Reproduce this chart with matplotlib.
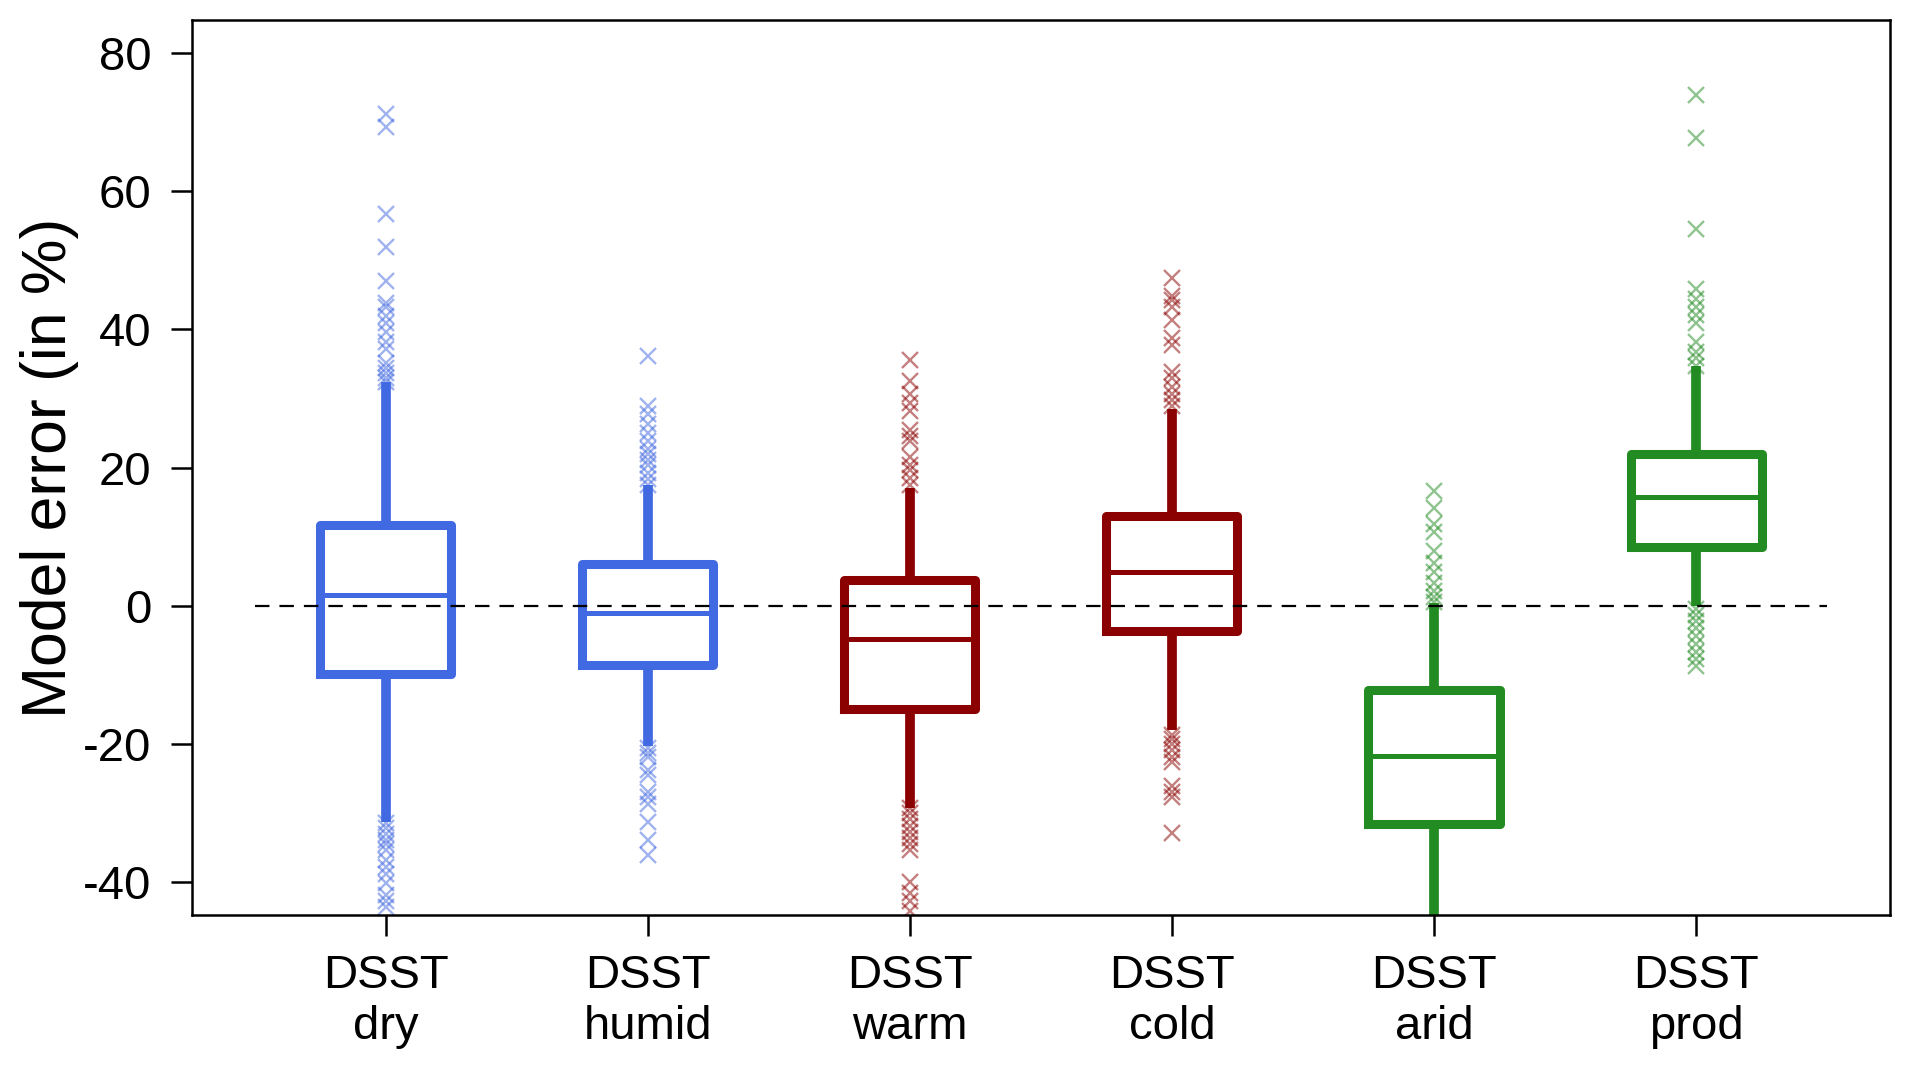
import numpy as np
import matplotlib
matplotlib.use("Agg")
import matplotlib.pyplot as plt

plt.rcParams['font.family'] = ['Liberation Sans', 'DejaVu Sans']
plt.rcParams['axes.unicode_minus'] = False

# groups and box statistics
labels = ["DSST\ndry", "DSST\nhumid", "DSST\nwarm", "DSST\ncold", "DSST\narid", "DSST\nprod"]
colors = ["#4169E1", "#4169E1", "#8B0000", "#8B0000", "#228B22", "#228B22"]
q1 = [-9.9, -8.6, -15.0, -3.7, -31.7, 8.5]
med = [1.5, -1.1, -4.9, 4.8, -21.8, 15.7]
q3 = [11.6, 6.0, 3.7, 13.0, -12.2, 21.9]
whislo = [-31.4, -20.3, -29.4, -18.1, -50.0, 0.0]
whishi = [32.4, 17.4, 17.1, 28.5, 0.3, 34.7]

# outliers
fl_dry = [71.2, 69.4, 56.7, 52.0, 47.0, 43.9, 43.2, 42.0, 40.9, 39.6, 38.2, 37.2, 35.2,
          34.4, 33.7, 33.0, 32.4,
          -31.5, -32.2, -33.1, -34.0, -34.6, -35.4, -36.8, -37.9, -38.9, -40.2, -41.9,
          -42.8, -43.7]
fl_humid = [36.1, 28.9, 27.7, 26.3, 25.0, 23.8, 22.7, 22.0, 21.1, 20.3, 19.2, 18.3, 17.4,
            -20.6, -21.3, -22.0, -23.8, -24.5, -27.0, -27.8, -28.7, -31.4, -34.0, -36.1]
fl_warm = [35.6, 32.6, 30.7, 29.4, 28.2, 25.4, 24.5, 23.8, 21.5, 20.4, 19.6, 18.5, 17.4,
           -29.4, -30.1, -31.0, -31.9, -32.8, -33.7, -34.5, -35.4, -40.0, -41.6, -42.8,
           -44.2]
fl_cold = [47.4, 44.9, 44.2, 43.2, 41.4, 38.8, 37.7, 33.8, 33.0, 31.7, 30.7, 29.8, 28.9,
           -18.7, -19.4, -20.1, -21.0, -21.9, -22.7, -26.1, -27.0, -27.8, -33.0]
fl_arid = [16.6, 14.1, 11.8, 10.6, 7.9, 6.2, 4.8, 3.3, 2.1, 1.2, 0.5]
fl_prod = [74.0, 67.7, 54.6, 45.8, 44.4, 43.2, 42.1, 40.9, 38.2, 36.8, 35.8, 34.7,
           -0.5, -1.4, -2.3, -3.3, -4.4, -5.5, -6.7, -7.8, -8.8]
fliers = [fl_dry, fl_humid, fl_warm, fl_cold, fl_arid, fl_prod]

fig = plt.figure(figsize=(19.1, 10.68), dpi=100)
ax = fig.add_axes([0.1005, 0.1435, 0.889, 0.8375])

for i in range(len(labels)):
    st = dict(med=med[i], q1=q1[i], q3=q3[i], whislo=whislo[i], whishi=whishi[i],
              fliers=np.array(fliers[i]))
    c = colors[i]
    ax.bxp([st], positions=[i + 1], widths=0.5, showcaps=False,
           boxprops=dict(color=c, linewidth=6.5),
           whiskerprops=dict(color=c, linewidth=7.0, solid_capstyle='butt'),
           medianprops=dict(color=c, linewidth=3.6),
           flierprops=dict(marker='x', markeredgecolor=c, markersize=11,
                           markeredgewidth=1.7, alpha=0.5, linestyle='none'))

ax.hlines(0, 0.5, 6.5, colors='black', linewidth=1.6, linestyles=(0, (6.5, 4.5)), zorder=5)

ax.set_xlim(0.26, 6.74)
ax.set_ylim(-44.8, 84.8)
ax.set_yticks([-40, -20, 0, 20, 40, 60, 80])
ax.set_yticklabels(["-40", "-20", "0", "20", "40", "60", "80"])
ax.set_xticks(range(1, 7))
ax.set_xticklabels(labels, linespacing=1.22)
ax.tick_params(axis='both', labelsize=34, width=1.8, length=15, direction='out')
ax.tick_params(axis='y', pad=14)
ax.tick_params(axis='x', pad=13)
for s in ax.spines.values():
    s.set_linewidth(1.8)
ax.set_ylabel("Model error (in %)", fontsize=45, labelpad=3)

fig.savefig("out.png", dpi=100)
